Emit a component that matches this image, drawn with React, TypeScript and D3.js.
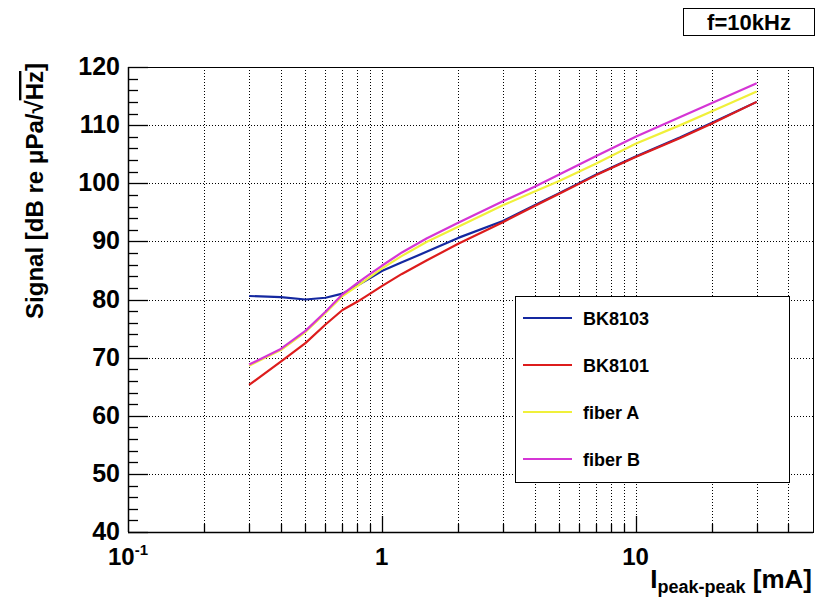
import React, { useEffect, useRef } from 'react';
import * as d3 from 'd3';

// peak-to-peak drive current [mA]
const currents = [0.3, 0.4, 0.5, 0.6, 0.7, 0.8, 0.9, 1, 1.2, 1.5, 2, 3, 4, 5, 7, 10, 15, 20, 30];

// signal [dB re uPa/sqrt(Hz)] at f = 10 kHz
const bk8103 = [80.6, 80.4, 80.0, 80.3, 81.0, 82.4, 83.7, 84.9, 86.4, 88.2, 90.6, 93.5, 96.2, 98.3, 101.5, 104.6, 107.9, 110.4, 114.0];
const bk8101 = [65.3, 69.3, 72.5, 75.7, 78.2, 79.6, 81.0, 82.3, 84.4, 86.7, 89.6, 93.3, 96.1, 98.2, 101.4, 104.5, 107.8, 110.3, 114.0];
const fiberA = [68.6, 71.3, 74.4, 77.7, 80.6, 82.3, 83.9, 85.3, 87.5, 89.9, 92.5, 96.2, 98.6, 100.4, 103.4, 106.8, 110.0, 112.4, 115.8];
const fiberB = [68.8, 71.5, 74.6, 77.9, 80.9, 82.8, 84.4, 85.8, 88.1, 90.5, 93.2, 96.9, 99.4, 101.5, 104.7, 108.0, 111.4, 113.8, 117.2];

const seriesNames = ['BK8103', 'BK8101', 'fiber A', 'fiber B'];
const seriesValues = [bk8103, bk8101, fiberA, fiberB];
const seriesColors = ['#1428a0', '#dd1c1c', '#f0f03a', '#d535d5'];

const yTicks = [40, 50, 60, 70, 80, 90, 100, 110, 120];
const xLabelTicks = [0.1, 1, 10];

const FONT = '"Liberation Sans", Arial, Helvetica, sans-serif';

const App = () => {
  const svgRef = useRef<SVGSVGElement>(null);
  const width = 821;
  const height = 606;
  const margin = { top: 67, right: 8, bottom: 74, left: 128 };

  useEffect(() => {
    const svg = d3.select(svgRef.current);
    svg.selectAll('*').remove();

    const x = d3.scaleLog().domain([0.1, 50]).range([margin.left, width - margin.right]);
    const y = d3.scaleLinear().domain([40, 120]).range([height - margin.bottom, margin.top]);
    const [x0, x1] = x.range();
    const [yb, yt] = y.range();

    svg.append('rect').attr('width', width).attr('height', height).attr('fill', '#fff');

    // all log ticks inside the domain
    const xTicks: number[] = [];
    [0.1, 1, 10].forEach(dec => {
      for (let k = 1; k <= 9; k++) {
        const v = dec * k;
        if (v > 0.1 && v < 50) xTicks.push(+v.toPrecision(3));
      }
    });

    // grid
    const grid = svg.append('g')
      .attr('stroke', '#000')
      .attr('stroke-width', 1)
      .attr('stroke-dasharray', '1,2');
    grid.selectAll('.vg')
      .data(xTicks)
      .enter()
      .append('line')
      .attr('x1', d => Math.round(x(d)) + 0.5)
      .attr('x2', d => Math.round(x(d)) + 0.5)
      .attr('y1', yt)
      .attr('y2', yb);
    grid.selectAll('.hg')
      .data(yTicks.slice(1, -1))
      .enter()
      .append('line')
      .attr('x1', x0)
      .attr('x2', x1)
      .attr('y1', d => Math.round(y(d)) + 0.5)
      .attr('y2', d => Math.round(y(d)) + 0.5);

    // curves, straight segments between points like the original graph
    const line = d3.line<[number, number]>()
      .x(d => x(d[0]))
      .y(d => y(d[1]));
    seriesValues.forEach((vals, i) => {
      svg.append('path')
        .datum(currents.map((c, j) => [c, vals[j]] as [number, number]))
        .attr('d', line)
        .attr('fill', 'none')
        .attr('stroke', seriesColors[i])
        .attr('stroke-width', 2.2)
        .attr('stroke-linejoin', 'round');
    });

    // frame
    svg.append('rect')
      .attr('x', x0 + 0.5)
      .attr('y', yt + 0.5)
      .attr('width', x1 - x0)
      .attr('height', yb - yt)
      .attr('fill', 'none')
      .attr('stroke', '#000')
      .attr('stroke-width', 1);

    // x axis ticks (drawn inward)
    svg.append('g')
      .selectAll('line')
      .data(xTicks)
      .enter()
      .append('line')
      .attr('x1', d => Math.round(x(d)) + 0.5)
      .attr('x2', d => Math.round(x(d)) + 0.5)
      .attr('y1', yb)
      .attr('y2', d => yb - (d === 1 || d === 10 ? 16 : 8))
      .attr('stroke', '#000')
      .attr('stroke-width', 1.3);

    // y axis ticks
    const yMinor = d3.range(40, 120.1, 2);
    svg.append('g')
      .selectAll('line')
      .data(yMinor)
      .enter()
      .append('line')
      .attr('x1', x0)
      .attr('x2', d => x0 + (d % 10 === 0 ? 20 : 10))
      .attr('y1', d => Math.round(y(d)) + 0.5)
      .attr('y2', d => Math.round(y(d)) + 0.5)
      .attr('stroke', '#000')
      .attr('stroke-width', 1.3);

    // axis lines slightly heavier
    svg.append('line').attr('x1', x0).attr('x2', x1).attr('y1', yb + 0.5).attr('y2', yb + 0.5)
      .attr('stroke', '#000').attr('stroke-width', 1.5);
    svg.append('line').attr('x1', x0 + 0.5).attr('x2', x0 + 0.5).attr('y1', yt).attr('y2', yb)
      .attr('stroke', '#000').attr('stroke-width', 1.5);

    // y tick labels
    svg.append('g')
      .selectAll('text')
      .data(yTicks)
      .enter()
      .append('text')
      .attr('x', x0 - 8)
      .attr('y', d => y(d) + 8)
      .attr('text-anchor', 'end')
      .attr('font-family', FONT)
      .attr('font-weight', 'bold')
      .attr('font-size', 25)
      .text(d => d);

    // x tick labels
    xLabelTicks.forEach(v => {
      const t = svg.append('text')
        .attr('x', x(v))
        .attr('y', 565)
        .attr('text-anchor', 'middle')
        .attr('font-family', FONT)
        .attr('font-weight', 'bold')
        .attr('font-size', 24);
      if (v < 1) {
        t.append('tspan').text('10');
        t.append('tspan').attr('font-size', 15).attr('dy', -10).text('-1');
      } else {
        t.text(v);
      }
    });

    // y title
    const yt1 = svg.append('text')
      .attr('transform', `translate(43,63) rotate(-90)`)
      .attr('text-anchor', 'end')
      .attr('font-family', FONT)
      .attr('font-weight', 'bold')
      .attr('font-size', 24);
    yt1.append('tspan').text('Signal [dB re \u03bcPa/\u221a');
    yt1.append('tspan').style('text-decoration', 'overline').text('Hz');
    yt1.append('tspan').text(']');

    // x title
    const xt = svg.append('text')
      .attr('x', 812)
      .attr('y', 588)
      .attr('text-anchor', 'end')
      .attr('font-family', FONT)
      .attr('font-weight', 'bold')
      .attr('font-size', 26);
    xt.append('tspan').text('I');
    xt.append('tspan').attr('font-size', 18).attr('dy', 5).text('peak-peak');
    xt.append('tspan').attr('dy', -5).text(' [mA]');

    // frequency box
    svg.append('rect')
      .attr('x', 683.5).attr('y', 8.5).attr('width', 131).attr('height', 27)
      .attr('fill', '#fff').attr('stroke', '#000').attr('stroke-width', 1);
    svg.append('text')
      .attr('x', 749).attr('y', 29.5)
      .attr('text-anchor', 'middle')
      .attr('font-family', FONT)
      .attr('font-weight', 'bold')
      .attr('font-size', 22)
      .text('f=10kHz');

    // legend
    const lg = svg.append('g').attr('transform', 'translate(515,296)');
    lg.append('rect')
      .attr('x', 0.5).attr('y', 0.5).attr('width', 274).attr('height', 186)
      .attr('fill', '#fff').attr('stroke', '#000').attr('stroke-width', 1);
    const rowY = d3.scalePoint<string>().domain(seriesNames).range([22, 163]);
    seriesNames.forEach((name, i) => {
      const ry = rowY(name) as number;
      lg.append('line')
        .attr('x1', 8).attr('x2', 57)
        .attr('y1', ry).attr('y2', ry)
        .attr('stroke', seriesColors[i])
        .attr('stroke-width', 2.2);
      lg.append('text')
        .attr('x', 68).attr('y', ry + 6.5)
        .attr('font-family', FONT)
        .attr('font-weight', 'bold')
        .attr('font-size', 18)
        .text(name);
    });
  }, []);

  return (
    <svg
      ref={svgRef}
      width={width}
      height={height}
      style={{ position: 'absolute', left: 0, top: 0, display: 'block' }}
    />
  );
};

export default App;
